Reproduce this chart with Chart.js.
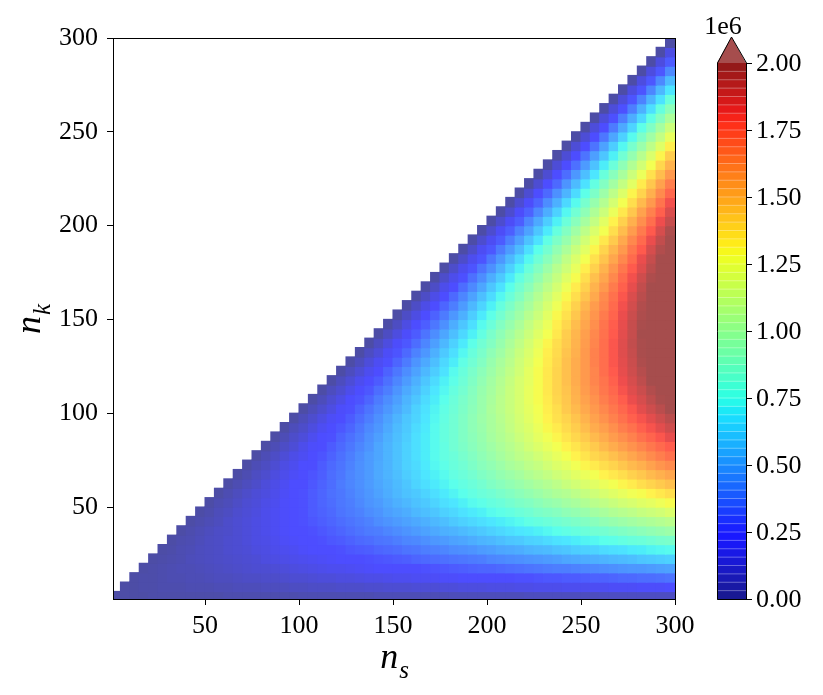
<!DOCTYPE html>
<html>
<head>
<meta charset="utf-8">
<script src="https://cdn.jsdelivr.net/npm/chart.js@4.4.0/dist/chart.umd.min.js"></script>
<style>
html, body { margin: 0; padding: 0; background: #fff; }
</style>
</head>
<body>
<canvas id="heat" width="823" height="695"></canvas>
<script>
// Cell centres (every 5 units) on both axes
const nsCells = [2.5,7.5,12.5,17.5,22.5,27.5,32.5,37.5,42.5,47.5,52.5,57.5,62.5,67.5,72.5,77.5,82.5,87.5,92.5,97.5,
  102.5,107.5,112.5,117.5,122.5,127.5,132.5,137.5,142.5,147.5,152.5,157.5,162.5,167.5,172.5,177.5,182.5,187.5,192.5,197.5,
  202.5,207.5,212.5,217.5,222.5,227.5,232.5,237.5,242.5,247.5,252.5,257.5,262.5,267.5,272.5,277.5,282.5,287.5,292.5,297.5];
const nkCells = [2.5,7.5,12.5,17.5,22.5,27.5,32.5,37.5,42.5,47.5,52.5,57.5,62.5,67.5,72.5,77.5,82.5,87.5,92.5,97.5,
  102.5,107.5,112.5,117.5,122.5,127.5,132.5,137.5,142.5,147.5,152.5,157.5,162.5,167.5,172.5,177.5,182.5,187.5,192.5,197.5,
  202.5,207.5,212.5,217.5,222.5,227.5,232.5,237.5,242.5,247.5,252.5,257.5,262.5,267.5,272.5,277.5,282.5,287.5,292.5,297.5];

// Values, in units of 1e4 (so 100 = 1.00e6).
// Row i belongs to nkCells[i] and starts at the diagonal column nsCells[i].
const cost = [
  [0,0,0,0,1,1,1,1,1,1,1,1,2,2,2,2,2,2,2,2,3,3,3,3,3,3,3,3,4,4,4,4,4,4,4,4,5,5,5,5,5,5,5,5,6,6,6,6,6,6,6,6,7,7,7,7,7,7,7,7],
  [0,0,1,1,2,2,2,3,3,3,4,4,5,5,5,6,6,6,7,7,8,8,8,9,9,9,10,10,11,11,11,12,12,12,13,13,14,14,14,15,15,15,16,16,17,17,17,18,18,18,19,19,20,20,20,21,21,21,22],
  [0,1,1,2,3,3,4,4,5,6,6,7,8,8,9,9,10,11,11,12,13,13,14,14,15,16,16,17,18,18,19,19,20,21,21,22,23,23,24,24,25,26,26,27,28,28,29,29,30,31,31,32,33,33,34,34,35,36],
  [0,1,2,3,4,4,5,6,7,8,9,10,11,11,12,13,14,15,16,17,18,18,19,20,21,22,23,24,25,25,26,27,28,29,30,31,32,32,33,34,35,36,37,38,39,39,40,41,42,43,44,45,46,46,47,48,49],
  [0,1,2,3,5,6,7,8,9,10,11,12,14,15,16,17,18,19,20,21,23,24,25,26,27,28,29,30,32,33,34,35,36,37,38,39,41,42,43,44,45,46,47,48,50,51,52,53,54,55,56,57,59,60,61,62],
  [0,1,3,4,6,7,8,10,11,12,14,15,17,18,19,21,22,23,25,26,28,29,30,32,33,34,36,37,39,40,41,43,44,45,47,48,50,51,52,54,55,56,58,59,61,62,63,65,66,67,69,70,72,73,74],
  [0,2,3,5,7,8,10,11,13,15,16,18,20,21,23,24,26,28,29,31,33,34,36,37,39,41,42,44,46,47,49,50,52,54,55,57,59,60,62,63,65,67,68,70,72,73,75,76,78,80,81,83,85,86],
  [0,2,4,6,8,9,11,13,15,17,19,21,23,24,26,28,30,32,34,36,38,39,41,43,45,47,49,51,53,54,56,58,60,62,64,66,68,69,71,73,75,77,79,81,83,84,86,88,90,92,94,96,98],
  [0,2,4,6,9,11,13,15,17,19,21,23,26,28,30,32,34,36,38,40,43,45,47,49,51,53,55,57,60,62,64,66,68,70,72,74,77,79,81,83,85,87,89,91,94,96,98,100,102,104,106,108],
  [0,2,5,7,10,12,14,17,19,21,24,26,29,31,33,36,38,40,43,45,48,50,52,55,57,59,62,64,67,69,71,74,76,78,81,83,86,88,90,93,95,97,100,102,105,107,109,112,114,116,119],
  [0,3,5,8,11,13,16,18,21,24,26,29,32,34,37,39,42,45,47,50,53,55,58,60,63,66,68,71,74,76,79,81,84,87,89,92,95,97,100,102,105,108,110,113,116,118,121,123,126,129],
  [0,3,6,9,12,14,17,20,23,26,29,32,35,37,40,43,46,49,52,55,58,60,63,66,69,72,75,78,81,83,86,89,92,95,98,101,104,106,109,112,115,118,121,124,127,129,132,135,138],
  [0,3,6,9,13,16,19,22,25,28,31,34,38,41,44,47,50,53,56,59,63,66,69,72,75,78,81,84,88,91,94,97,100,103,106,109,113,116,119,122,125,128,131,134,138,141,144,147],
  [0,3,7,10,14,17,20,24,27,30,34,37,41,44,47,51,54,57,61,64,68,71,74,78,81,84,88,91,95,98,101,105,108,111,115,118,122,125,128,132,135,138,142,145,149,152,155],
  [0,4,7,11,15,18,22,25,29,33,36,40,44,47,51,54,58,62,65,69,73,76,80,83,87,91,94,98,102,105,109,112,116,120,123,127,131,134,138,141,145,149,152,156,160,163],
  [0,4,8,12,16,19,23,27,31,35,39,43,47,50,54,58,62,66,70,74,78,81,85,89,93,97,101,105,109,112,116,120,124,128,132,136,140,143,147,151,155,159,163,167,171],
  [0,4,8,12,17,21,25,29,33,37,41,45,50,54,58,62,66,70,74,78,83,87,91,95,99,103,107,111,116,120,124,128,132,136,140,144,149,153,157,161,165,169,173,177],
  [0,4,9,13,18,22,26,31,35,39,44,48,53,57,61,66,70,74,79,83,88,92,96,101,105,109,114,118,123,127,131,136,140,144,149,153,158,162,166,171,175,179,184],
  [0,5,9,14,19,23,28,32,37,42,46,51,56,60,65,69,74,79,83,88,93,97,102,106,111,116,120,125,130,134,139,143,148,153,157,162,167,171,176,180,185,190],
  [0,5,10,15,20,24,29,34,39,44,49,54,59,63,68,73,78,83,88,93,98,102,107,112,117,122,127,132,137,141,146,151,156,161,166,171,176,180,185,190,195],
  [0,5,10,15,21,26,31,36,41,46,51,56,62,67,72,77,82,87,92,97,103,108,113,118,123,128,133,138,144,149,154,159,164,169,174,179,185,190,195,200],
  [0,5,11,16,22,27,32,38,43,48,54,59,65,70,75,81,86,91,97,102,108,113,118,124,129,134,140,145,151,156,161,167,172,177,183,188,194,199,204],
  [0,6,11,17,23,28,34,39,45,51,56,62,68,73,79,84,90,96,101,107,113,118,124,129,135,141,146,152,158,163,169,174,180,186,191,197,203,208],
  [0,6,12,18,24,29,35,41,47,53,59,65,71,76,82,88,94,100,106,112,118,123,129,135,141,147,153,159,165,170,176,182,188,194,200,206,212],
  [0,6,12,18,25,31,37,43,49,55,61,67,74,80,86,92,98,104,110,116,123,129,135,141,147,153,159,165,172,178,184,190,196,202,208,214],
  [0,6,13,19,26,32,38,45,51,57,64,70,77,83,89,96,102,108,115,121,128,134,140,147,153,159,166,172,179,185,191,198,204,210,217],
  [0,7,13,20,27,33,40,46,53,60,66,73,80,86,93,99,106,113,119,126,133,139,146,152,159,166,172,179,186,192,199,205,212,219],
  [0,7,14,21,28,34,41,48,55,62,69,76,83,89,96,103,110,117,124,131,138,144,151,158,165,172,179,186,193,199,206,213,220],
  [0,7,14,21,29,36,43,50,57,64,71,78,86,93,100,107,114,121,128,135,143,150,157,164,171,178,185,192,200,207,214,221],
  [0,7,15,22,30,37,44,52,59,66,74,81,89,96,103,111,118,125,133,140,148,155,162,170,177,184,192,199,207,214,221],
  [0,8,15,23,31,38,46,53,61,69,76,84,92,99,107,114,122,130,137,145,153,160,168,175,183,191,198,206,214,221],
  [0,8,16,24,32,39,47,55,63,71,79,87,95,102,110,118,126,134,142,150,158,165,173,181,189,197,205,213,221],
  [0,8,16,24,33,41,49,57,65,73,81,89,98,106,114,122,130,138,146,154,163,171,179,187,195,203,211,219],
  [0,8,17,25,34,42,50,59,67,75,84,92,101,109,117,126,134,142,151,159,168,176,184,193,201,209,218],
  [0,9,17,26,35,43,52,60,69,78,86,95,104,112,121,129,138,147,155,164,173,181,190,198,207,216],
  [0,9,18,27,36,44,53,62,71,80,89,98,107,115,124,133,142,151,160,169,178,186,195,204,213],
  [0,9,18,27,37,46,55,64,73,82,91,100,110,119,128,137,146,155,164,173,183,192,201,210],
  [0,9,19,28,38,47,56,66,75,84,94,103,113,122,131,141,150,159,169,178,188,197,206],
  [0,10,19,29,39,48,58,67,77,87,96,106,116,125,135,144,154,164,173,183,193,202],
  [0,10,20,30,40,49,59,69,79,89,99,109,119,128,138,148,158,168,178,188,198],
  [0,10,20,30,41,51,61,71,81,91,101,111,122,132,142,152,162,172,182,192],
  [0,10,21,31,42,52,62,73,83,93,104,114,125,135,145,156,166,176,187],
  [0,11,21,32,43,53,64,74,85,96,106,117,128,138,149,159,170,181],
  [0,11,22,33,44,54,65,76,87,98,109,120,131,141,152,163,174],
  [0,11,22,33,45,56,67,78,89,100,111,122,134,145,156,167],
  [0,11,23,34,46,57,68,80,91,102,114,125,137,148,159],
  [0,12,23,35,47,58,70,81,93,105,116,128,140,151],
  [0,12,24,36,48,59,71,83,95,107,119,131,143],
  [0,12,24,36,49,61,73,85,97,109,121,133],
  [0,12,25,37,50,62,74,87,99,111,124],
  [0,13,25,38,51,63,76,88,101,114],
  [0,13,26,39,52,64,77,90,103],
  [0,13,26,39,53,66,79,92],
  [0,13,27,40,54,67,80],
  [0,14,27,41,55,68],
  [0,14,28,42,56],
  [0,14,28,42],
  [0,14,29],
  [0,15],
  [0]
];

const axisTicks = [50, 100, 150, 200, 250, 300];
const cbTicks = [0, 0.25, 0.5, 0.75, 1.0, 1.25, 1.5, 1.75, 2.0];
const cbMax = 2.0;      // colour bar top, in 1e6
const perMillion = 100; // table units per 1e6
const cellStep = 5;

const FONT = '"Liberation Serif", "Times New Roman", serif';

// matplotlib jet colormap
const jetR = [[0,0],[0.35,0],[0.66,1],[0.89,1],[1,0.5]];
const jetG = [[0,0],[0.125,0],[0.375,1],[0.64,1],[0.91,0],[1,0]];
const jetB = [[0,0.5],[0.11,1],[0.34,1],[0.65,0],[1,0]];

function seg(p, t) {
    for (let i = 1; i < p.length; i++) {
        if (t <= p[i][0]) {
            const [x0, y0] = p[i - 1], [x1, y1] = p[i];
            return y0 + (y1 - y0) * (t - x0) / (x1 - x0);
        }
    }
    return p[p.length - 1][1];
}

// jet colour blended over white with the given alpha
function jetColor(t, alpha) {
    t = Math.min(1, Math.max(0, t));
    const ch = [jetR, jetG, jetB].map(p => Math.round(255 * (alpha * seg(p, t) + 1 - alpha)));
    return `rgb(${ch.join(',')})`;
}

const points = [];
cost.forEach((row, i) => {
    row.forEach((v, j) => points.push({ x: nsCells[i + j], y: nkCells[i], v: v }));
});

function cellRadius(chart) {
    const xs = chart.scales.x;
    const half = Math.abs(xs.getPixelForValue(cellStep) - xs.getPixelForValue(0)) / 2 + 0.6;
    return half / Math.SQRT1_2;
}

function drawSubLabel(ctx, cx, cy, rot, main, sub, size) {
    ctx.save();
    ctx.translate(cx, cy);
    ctx.rotate(rot);
    ctx.fillStyle = '#000';
    ctx.textBaseline = 'alphabetic';
    ctx.textAlign = 'left';
    ctx.font = `italic ${size}px ${FONT}`;
    const w1 = ctx.measureText(main).width;
    const subSize = Math.round(size * 0.7);
    ctx.font = `italic ${subSize}px ${FONT}`;
    const w2 = ctx.measureText(sub).width;
    const x0 = -(w1 + w2) / 2;
    ctx.font = `italic ${size}px ${FONT}`;
    ctx.fillText(main, x0, 0);
    ctx.font = `italic ${subSize}px ${FONT}`;
    ctx.fillText(sub, x0 + w1 + 1, size * 0.28);
    ctx.restore();
}

// Frame, axis titles and colour bar
const decor = {
    id: 'decor',
    afterDraw(chart) {
        const { ctx, chartArea: a } = chart;
        ctx.save();
        ctx.strokeStyle = '#000';
        ctx.lineWidth = 1;
        ctx.strokeRect(Math.round(a.left) + 0.5, Math.round(a.top) + 0.5,
            Math.round(a.right - a.left), Math.round(a.bottom - a.top));

        drawSubLabel(ctx, (a.left + a.right) / 2, a.bottom + 69, 0, 'n', 's', 36);
        drawSubLabel(ctx, a.left - 73, (a.top + a.bottom) / 2 + 1, -Math.PI / 2, 'n', 'k', 36);

        // colour bar
        const cbL = Math.round(a.right) + 42, cbR = cbL + 29;
        const cbT = Math.round(a.top) + 25, cbB = Math.round(a.bottom);
        const h = cbB - cbT;
        const n = 64;
        for (let i = 0; i < n; i++) {
            const y0 = cbB - (i + 1) / n * h, y1 = cbB - i / n * h;
            ctx.fillStyle = jetColor((i + 0.5) / n, 0.9);
            ctx.fillRect(cbL, y0, cbR - cbL, y1 - y0 + 0.6);
        }
        for (let i = 1; i < n; i++) {
            const y = cbB - i / n * h;
            ctx.fillStyle = jetColor(i / n, 0.6);
            ctx.fillRect(cbL, y - 0.5, cbR - cbL, 1);
        }
        const mid = (cbL + cbR) / 2;
        ctx.beginPath();
        ctx.moveTo(cbL, cbT);
        ctx.lineTo(mid, cbT - 26);
        ctx.lineTo(cbR, cbT);
        ctx.closePath();
        ctx.fillStyle = jetColor(1, 0.7);
        ctx.fill();

        ctx.beginPath();
        ctx.moveTo(cbL + 0.5, cbB + 0.5);
        ctx.lineTo(cbL + 0.5, cbT);
        ctx.lineTo(mid, cbT - 26);
        ctx.lineTo(cbR + 0.5, cbT);
        ctx.lineTo(cbR + 0.5, cbB + 0.5);
        ctx.closePath();
        ctx.strokeStyle = '#000';
        ctx.lineWidth = 1;
        ctx.stroke();

        ctx.font = `26px ${FONT}`;
        ctx.fillStyle = '#000';
        ctx.textAlign = 'left';
        ctx.textBaseline = 'middle';
        cbTicks.forEach(v => {
            const y = Math.round(cbB - v / cbMax * h) + 0.5;
            ctx.beginPath();
            ctx.moveTo(cbR, y);
            ctx.lineTo(cbR + 6, y);
            ctx.stroke();
            ctx.fillText(v.toFixed(2), cbR + 10, y + 1);
        });
        ctx.textAlign = 'center';
        ctx.textBaseline = 'alphabetic';
        ctx.fillText('1e6', cbL + 6, cbT - 29);
        ctx.restore();
    }
};

const tickFont = { family: FONT, size: 26 };

new Chart(document.getElementById('heat'), {
    type: 'scatter',
    data: {
        datasets: [{
            data: points,
            pointStyle: 'rect',
            borderWidth: 0,
            clip: 0,
            backgroundColor: c => (c.raw ? jetColor(c.raw.v / perMillion / cbMax, 0.7) : 'transparent'),
            pointRadius: c => cellRadius(c.chart),
            pointHoverRadius: c => cellRadius(c.chart)
        }]
    },
    options: {
        responsive: false,
        animation: false,
        devicePixelRatio: 1,
        events: [],
        layout: { padding: { top: 38, right: 148, left: 0, bottom: 0 } },
        plugins: { legend: { display: false }, tooltip: { enabled: false } },
        scales: {
            x: {
                type: 'linear', min: 1, max: 300,
                afterBuildTicks: s => { s.ticks = axisTicks.map(v => ({ value: v })); },
                afterFit: s => { s.height = 96; },
                grid: { drawOnChartArea: false, drawTicks: true, tickLength: 6, color: '#000' },
                border: { display: false },
                ticks: { font: tickFont, color: '#000', padding: 6, autoSkip: false, maxRotation: 0 }
            },
            y: {
                type: 'linear', min: 1, max: 300,
                afterBuildTicks: s => { s.ticks = axisTicks.map(v => ({ value: v })); },
                afterFit: s => { s.width = 113; },
                grid: { drawOnChartArea: false, drawTicks: true, tickLength: 6, color: '#000' },
                border: { display: false },
                ticks: { font: tickFont, color: '#000', padding: 9, autoSkip: false }
            }
        }
    },
    plugins: [decor]
});
</script>
</body>
</html>
